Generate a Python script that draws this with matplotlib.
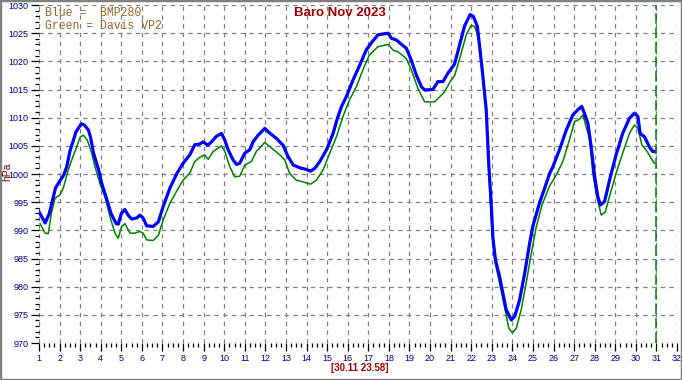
import matplotlib
matplotlib.use('Agg')
import matplotlib.pyplot as plt
from matplotlib.patches import Rectangle
from matplotlib.ticker import MultipleLocator

# blue = BMP280 (day of month, hPa)
blue_day = [1.0, 1.3, 1.5, 1.8, 2.0, 2.2, 2.35, 2.5, 2.8, 3.05, 3.2, 3.4, 3.5, 3.65, 3.9,
            4.05, 4.3, 4.5, 4.75, 4.85, 5.0, 5.17, 5.33, 5.5, 5.75, 5.9, 6.06, 6.23, 6.55,
            6.8, 7.03, 7.36, 7.7, 8.0, 8.33, 8.57, 8.8, 8.98, 9.2, 9.38, 9.62, 9.87, 10.03,
            10.19, 10.43, 10.6, 10.75, 11.0, 11.24, 11.4, 11.65, 11.97, 12.2, 12.54, 12.86,
            13.1, 13.35, 13.67, 14.0, 14.19, 14.4, 14.64, 14.97, 15.29, 15.5, 15.7, 15.93,
            16.26, 16.58, 16.9, 17.15, 17.47, 17.96, 18.12, 18.36, 18.52, 18.85, 19.09,
            19.33, 19.58, 19.74, 20.14, 20.38, 20.63, 20.87, 21.19, 21.44, 21.68, 21.95,
            22.1, 22.3, 22.52, 22.73, 22.86, 22.98, 23.05, 23.18, 23.38, 23.54, 23.7, 23.95,
            24.11, 24.35, 24.6, 24.84, 25.0, 25.33, 25.6, 25.8, 25.97, 26.29, 26.62, 26.94,
            27.18, 27.37, 27.5, 27.67, 27.83, 28.0, 28.15, 28.28, 28.48, 28.72, 29.04,
            29.36, 29.69, 29.93, 30.1, 30.21, 30.42, 30.66, 30.82, 30.93]
blue_hpa = [993.3, 991.3, 993.0, 997.5, 998.7, 999.8, 1001.3, 1004.0, 1007.5, 1008.9, 1008.7,
            1007.8, 1006.6, 1003.7, 1000.7, 998.3, 995.4, 993.0, 991.2, 991.1, 993.0, 993.7,
            992.7, 992.0, 992.2, 992.7, 992.2, 990.8, 990.7, 991.5, 994.2, 997.5, 1000.1,
            1001.9, 1003.4, 1005.2, 1005.3, 1005.7, 1005.1, 1005.7, 1006.7, 1007.2, 1006.0,
            1004.3, 1002.5, 1001.7, 1001.9, 1003.7, 1004.3, 1005.7, 1006.9, 1008.1, 1007.3,
            1006.3, 1005.1, 1003.1, 1001.6, 1001.1, 1000.8, 1000.5, 1001.0, 1002.2, 1004.3,
            1007.2, 1009.9, 1012.0, 1013.7, 1016.7, 1019.3, 1022.0, 1023.3, 1024.7, 1025.0,
            1024.1, 1023.8, 1023.3, 1022.3, 1020.2, 1017.6, 1015.5, 1014.9, 1015.0, 1016.4,
            1016.4, 1017.9, 1019.5, 1023.0, 1026.3, 1028.3, 1028.0, 1026.2, 1019.0, 1011.4,
            1001.3, 994.2, 988.9, 984.7, 981.8, 978.8, 975.9, 974.1, 974.7, 977.6, 982.4,
            987.7, 990.8, 995.0, 997.8, 1000.0, 1001.3, 1004.3, 1007.8, 1010.5, 1011.4,
            1012.0, 1010.8, 1009.0, 1004.8, 999.5, 996.0, 994.5, 995.1, 998.9, 1003.4,
            1007.2, 1009.9, 1010.8, 1010.2, 1007.2, 1006.6, 1004.8, 1004.0, 1004.0]

# green = Davis VP2
green_day = [1.05, 1.3, 1.45, 1.6, 1.78, 2.02, 2.18, 2.42, 2.59, 2.83, 2.99, 3.15, 3.35, 3.56,
             3.72, 3.96, 4.2, 4.45, 4.69, 4.85, 5.01, 5.17, 5.42, 5.66, 5.9, 6.06, 6.23, 6.55,
             6.8, 7.03, 7.36, 7.68, 8.0, 8.33, 8.57, 8.82, 9.05, 9.22, 9.46, 9.87, 10.03,
             10.27, 10.51, 10.75, 11.0, 11.32, 11.56, 11.97, 12.3, 12.7, 12.94, 13.18, 13.5,
             13.83, 14.19, 14.48, 14.8, 15.13, 15.45, 15.77, 16.08, 16.42, 16.74, 17.05,
             17.47, 17.96, 18.2, 18.44, 18.85, 19.09, 19.41, 19.74, 20.22, 20.47, 20.71,
             20.95, 21.2, 21.48, 21.76, 22.0, 22.16, 22.25, 22.4, 22.49, 22.65, 22.76, 22.81,
             22.93, 23.02, 23.14, 23.38, 23.62, 23.83, 24.0, 24.19, 24.43, 24.67, 24.92,
             25.16, 25.44, 25.8, 26.13, 26.45, 26.77, 27.02, 27.26, 27.43, 27.58, 27.75,
             27.91, 28.1, 28.32, 28.52, 28.72, 29.04, 29.36, 29.69, 29.93, 30.1, 30.3, 30.5,
             30.74, 30.9]
green_hpa = [991.2, 989.5, 989.4, 993.0, 995.7, 996.3, 997.5, 1000.7, 1002.5, 1004.8, 1006.5,
             1006.9, 1006.0, 1003.7, 1001.3, 998.3, 996.0, 992.4, 989.5, 988.6, 990.6, 991.2,
             989.5, 989.5, 989.8, 989.5, 988.3, 988.2, 989.1, 991.8, 994.8, 996.9, 998.9,
             1000.2, 1002.2, 1003.0, 1003.4, 1002.6, 1004.0, 1005.0, 1004.0, 1001.3, 999.5,
             999.6, 1001.6, 1002.2, 1004.0, 1005.6, 1004.6, 1003.4, 1002.5, 1000.1, 998.9,
             998.6, 998.2, 998.9, 1000.7, 1003.7, 1006.6, 1010.2, 1013.1, 1015.5, 1018.5,
             1021.1, 1022.6, 1023.0, 1022.0, 1021.7, 1020.5, 1018.5, 1015.2, 1012.8, 1012.8,
             1013.7, 1014.6, 1016.2, 1017.5, 1021.0, 1024.7, 1026.4, 1026.2, 1025.3, 1023.2,
             1020.2, 1014.5, 1010.2, 1004.3, 995.4, 989.5, 984.7, 980.6, 976.4, 972.6, 971.8,
             972.6, 975.9, 980.6, 985.9, 990.6, 994.5, 997.8, 999.8, 1002.2, 1006.0, 1009.3,
             1009.7, 1010.5, 1008.4, 1006.3, 1000.1, 996.0, 992.7, 993.3, 996.0, 1000.1,
             1003.7, 1007.2, 1008.7, 1008.1, 1005.1, 1004.3, 1002.8, 1001.9]

end_day = 31
W, H = 682, 380
navy = '#000080'
dark_red = '#990000'

plt.rcParams['font.family'] = ['Liberation Sans', 'DejaVu Sans']

fig = plt.figure(figsize=(W / 100, H / 100), dpi=100)
fig.patch.set_facecolor('white')
ax = fig.add_axes([39 / W, 37 / H, 638 / W, 338 / H])

ax.plot(green_day, green_hpa, color='#008000', lw=1.1, zorder=3)
ax.plot(blue_day, blue_hpa, color='#0000ff', lw=2.3, zorder=4)
ax.axvline(end_day, color='#008000', lw=1.1, linestyle=(0, (7, 2.5)), zorder=5)

ax.set_xlim(1, 32)
ax.set_ylim(970, 1030)
ax.xaxis.set_major_locator(MultipleLocator(1))
ax.xaxis.set_minor_locator(MultipleLocator(0.25))
ax.yaxis.set_major_locator(MultipleLocator(5))
ax.yaxis.set_minor_locator(MultipleLocator(1))
ax.grid(True, which='major', color='#808080', lw=0.9, linestyle=(0, (3.5, 3.5)))
for s in ax.spines.values():
    s.set_visible(False)
ax.tick_params(which='major', direction='out', length=6, width=0.9, color='black',
               labelsize=6.5, labelcolor=navy, pad=2)
ax.tick_params(which='minor', direction='out', length=3, width=0.9, color='black')
ax.tick_params(axis='y', which='major', pad=1.5)

fig.text(7 / W, 1 - 172 / H, 'hPa', rotation=90, color='#800000', fontsize=7.5,
         ha='center', va='center')
fig.text(340 / W, 1 - 13 / H, 'Baro Nov 2023', color=dark_red, fontsize=9.5,
         fontweight='bold', ha='center', va='center')
fig.text(45 / W, 1 - 13 / H, 'Blue =  BMP280', family='Liberation Mono', color='#966432',
         fontsize=8.3, ha='left', va='center')
fig.text(45 / W, 1 - 26 / H, 'Green = Davis VP2', family='Liberation Mono', color='#966432',
         fontsize=8.3, ha='left', va='center')
fig.text(360 / W, 1 - 368 / H, '[30.11 23.58]', color=dark_red, fontsize=7,
         fontweight='bold', ha='center', va='center')

fig.patches.append(Rectangle((0, 0), 1, 1, transform=fig.transFigure, fill=False,
                             edgecolor='#808080', lw=2.5))

fig.savefig('out.png', dpi=100)
